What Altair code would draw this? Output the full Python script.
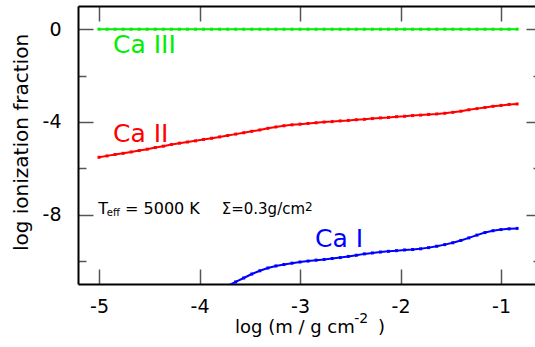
import altair as alt
import pandas as pd

# ---------------- data ----------------
log_m = [-5.00, -4.92, -4.84, -4.76, -4.68, -4.60, -4.52, -4.44, -4.36, -4.28,
         -4.20, -4.12, -4.04, -3.96, -3.88, -3.80, -3.72, -3.64, -3.56, -3.48,
         -3.40, -3.32, -3.24, -3.16, -3.08, -3.00, -2.92, -2.84, -2.76, -2.68,
         -2.60, -2.52, -2.44, -2.36, -2.28, -2.20, -2.12, -2.04, -1.96, -1.88,
         -1.80, -1.72, -1.64, -1.56, -1.48, -1.40, -1.32, -1.24, -1.16, -1.08,
         -1.00, -0.92, -0.84]

ca3 = [0.0, 0.0, 0.0, 0.0, 0.0, 0.0, 0.0, 0.0, 0.0, 0.0,
       0.0, 0.0, 0.0, 0.0, 0.0, 0.0, 0.0, 0.0, 0.0, 0.0,
       0.0, 0.0, 0.0, 0.0, 0.0, 0.0, 0.0, 0.0, 0.0, 0.0,
       0.0, 0.0, 0.0, 0.0, 0.0, 0.0, 0.0, 0.0, 0.0, 0.0,
       0.0, 0.0, 0.0, 0.0, 0.0, 0.0, 0.0, 0.0, 0.0, 0.0,
       0.0, 0.0, 0.0]

ca2 = [-5.53, -5.47, -5.41, -5.36, -5.30, -5.24, -5.18, -5.11, -5.05, -4.98,
       -4.92, -4.87, -4.82, -4.76, -4.71, -4.65, -4.59, -4.53, -4.47, -4.41,
       -4.35, -4.28, -4.22, -4.17, -4.13, -4.10, -4.07, -4.04, -4.01, -3.99,
       -3.96, -3.94, -3.91, -3.89, -3.86, -3.83, -3.81, -3.78, -3.76, -3.73,
       -3.71, -3.68, -3.66, -3.63, -3.59, -3.54, -3.48, -3.43, -3.38, -3.33,
       -3.29, -3.25, -3.23]

ca1_x = [-3.72, -3.64, -3.56, -3.48, -3.40, -3.32, -3.24, -3.16, -3.08, -3.00,
         -2.92, -2.84, -2.76, -2.68, -2.60, -2.52, -2.44, -2.36, -2.28, -2.20,
         -2.12, -2.04, -1.96, -1.88, -1.80, -1.72, -1.64, -1.56, -1.48, -1.40,
         -1.32, -1.24, -1.16, -1.08, -1.00, -0.92, -0.84]
ca1 = [-11.08, -10.91, -10.74, -10.57, -10.43, -10.31, -10.22, -10.16, -10.10, -10.05,
       -10.01, -9.97, -9.94, -9.90, -9.86, -9.81, -9.76, -9.70, -9.66, -9.62,
       -9.59, -9.56, -9.53, -9.51, -9.48, -9.43, -9.37, -9.30, -9.22, -9.12,
       -9.01, -8.89, -8.78, -8.70, -8.65, -8.62, -8.60]

series_names = ["Ca I", "Ca II", "Ca III"]
series_colors = ["#0000ff", "#ff0000", "#00ee00"]

x_ticks = [-5, -4, -3, -2, -1]
y_major = [-8, -4, 0]
y_minor = [-10, -6, -2]

label_text = ["Ca III", "Ca II", "Ca I"]
label_x = [-4.861, -4.861, -2.851]
label_y = [-1.028, -4.870, -9.401]

note_main = ["T", "= 5000 K"]
note_main_x = [-5.007, -4.741]
note_main_y = [-7.977, -7.977]
note_sub = "eff"
note_sub_x, note_sub_y = -4.923, -8.07
note_sigma = "Σ=0.3g/cm"
note_sigma_x, note_sigma_y = -3.779, -7.977
note_sup = "2"
note_sup_x, note_sup_y = -2.950, -7.848

xtitle_main = ["log (m / g cm", ")"]
xtitle_main_x = [-3.647, -2.224]
xtitle_main_y = [-13.126, -13.126]
xtitle_sup = "-2"
xtitle_sup_x, xtitle_sup_y = -2.460, -12.694
ytitle = "log ionization fraction"
ytitle_x, ytitle_y = -5.771, -4.891

# ---------------- tables ----------------
rows = []
for xv, yv in zip(log_m, ca3):
    rows.append({"x": xv, "y": yv, "s": "Ca III"})
for xv, yv in zip(log_m, ca2):
    rows.append({"x": xv, "y": yv, "s": "Ca II"})
for xv, yv in zip(ca1_x, ca1):
    rows.append({"x": xv, "y": yv, "s": "Ca I"})
df = pd.DataFrame(rows)

lab_df = pd.DataFrame({"t": label_text, "x": label_x, "y": label_y, "s": ["Ca III", "Ca II", "Ca I"]})
note_df = pd.DataFrame({"t": note_main, "x": note_main_x, "y": note_main_y})
sub_df = pd.DataFrame({"t": [note_sub], "x": [note_sub_x], "y": [note_sub_y]})
sig_df = pd.DataFrame({"t": [note_sigma], "x": [note_sigma_x], "y": [note_sigma_y]})
sup_df = pd.DataFrame({"t": [note_sup], "x": [note_sup_x], "y": [note_sup_y]})
xt_df = pd.DataFrame({"t": xtitle_main, "x": xtitle_main_x, "y": xtitle_main_y})
xts_df = pd.DataFrame({"t": [xtitle_sup], "x": [xtitle_sup_x], "y": [xtitle_sup_y]})
yt_df = pd.DataFrame({"t": [ytitle], "x": [ytitle_x], "y": [ytitle_y]})

FONT = "DejaVu Sans"
xs = alt.Scale(domain=[-5.209, -0.662], nice=False, zero=False)
ys = alt.Scale(domain=[-11, 1], nice=False, zero=False)
cs = alt.Scale(domain=series_names, range=series_colors)
TICK = "#555555"

def X(axis):
    return alt.X("x:Q", scale=xs, axis=axis)

def Y(axis):
    return alt.Y("y:Q", scale=ys, axis=axis)

ax_x_bottom = alt.Axis(orient="bottom", values=x_ticks, offset=-15, tickSize=15, domain=False,
                       labels=True, title=None, labelFont=FONT, labelFontSize=19, labelPadding=13,
                       labelColor="black", tickColor=TICK, tickWidth=1.5, grid=False,
                       labelExpr="datum.value + ''")
ax_x_top = alt.Axis(orient="top", values=x_ticks, offset=-15, tickSize=15, domain=False,
                    labels=False, title=None, tickColor=TICK, tickWidth=1.5, grid=False)
ax_x_bdom = alt.Axis(orient="bottom", ticks=False, labels=False, domain=True, domainColor="black",
                     domainWidth=2, title=None, grid=False)
ax_x_tdom = alt.Axis(orient="top", ticks=False, labels=False, domain=True, domainColor="black",
                     domainWidth=2, title=None, grid=False)

ax_y_left = alt.Axis(orient="left", values=y_major, offset=-15, tickSize=15, domain=False,
                     labels=True, title=None, labelFont=FONT, labelFontSize=19, labelPadding=17,
                     labelColor="black", tickColor=TICK, tickWidth=1.5, grid=False,
                     labelExpr="datum.value + ''")
ax_y_lminor = alt.Axis(orient="left", values=y_minor, offset=-8, tickSize=8, domain=False,
                       labels=False, title=None, tickColor=TICK, tickWidth=1.5, grid=False)
ax_y_right = alt.Axis(orient="right", values=y_major, offset=-9, tickSize=9, domain=False,
                      labels=False, title=None, tickColor=TICK, tickWidth=1.5, grid=False)
ax_y_rminor = alt.Axis(orient="right", values=y_minor, offset=-2, tickSize=2, domain=False,
                       labels=False, title=None, tickColor=TICK, tickWidth=1.5, grid=False)
ax_y_ldom = alt.Axis(orient="left", ticks=False, labels=False, domain=True, domainColor="black",
                     domainWidth=2, title=None, grid=False)

base = alt.Chart(df)

lines = base.mark_line(strokeWidth=2, clip=True).encode(
    x=X(ax_x_bottom), y=Y(ax_y_left),
    color=alt.Color("s:N", scale=cs, legend=None), detail="s:N")
pts = base.mark_point(shape="square", filled=True, size=9, opacity=1, clip=True).encode(
    x=X(ax_x_top), y=Y(ax_y_lminor),
    color=alt.Color("s:N", scale=cs, legend=None))
inv1 = base.mark_point(opacity=0).encode(x=X(ax_x_bdom), y=Y(ax_y_right))
inv2 = base.mark_point(opacity=0).encode(x=X(ax_x_tdom), y=Y(ax_y_rminor))
inv3 = base.mark_point(opacity=0).encode(x=X(None), y=Y(ax_y_ldom))

labels = alt.Chart(lab_df).mark_text(font=FONT, fontSize=25, align="left", baseline="alphabetic").encode(
    x=X(None), y=Y(None), text="t:N", color=alt.Color("s:N", scale=cs, legend=None))
notes = alt.Chart(note_df).mark_text(font=FONT, fontSize=16, align="left", baseline="alphabetic",
                                     color="black").encode(x=X(None), y=Y(None), text="t:N")
subs = alt.Chart(sub_df).mark_text(font=FONT, fontSize=10, align="left", baseline="alphabetic",
                                   color="black").encode(x=X(None), y=Y(None), text="t:N")
sigs = alt.Chart(sig_df).mark_text(font=FONT, fontSize=15, align="left", baseline="alphabetic",
                                   color="black").encode(x=X(None), y=Y(None), text="t:N")
sups = alt.Chart(sup_df).mark_text(font=FONT, fontSize=12, align="left", baseline="alphabetic",
                                   color="black").encode(x=X(None), y=Y(None), text="t:N")
xt = alt.Chart(xt_df).mark_text(font=FONT, fontSize=18, align="left", baseline="alphabetic",
                                color="black").encode(x=X(None), y=Y(None), text="t:N")
xts = alt.Chart(xts_df).mark_text(font=FONT, fontSize=14, align="left", baseline="alphabetic",
                                  color="black").encode(x=X(None), y=Y(None), text="t:N")
yt = alt.Chart(yt_df).mark_text(font=FONT, fontSize=20, align="center", baseline="middle",
                                angle=270, color="black").encode(x=X(None), y=Y(None), text="t:N")

chart = alt.layer(lines, pts, inv1, inv2, inv3, labels, notes, subs, sigs, sups, xt, xts, yt).resolve_axis(
    x="independent", y="independent"
).properties(
    width=457, height=278,
    autosize=alt.AutoSizeParams(type="none"),
    padding={"left": 78, "top": 6, "right": 0, "bottom": 63},
    background="white",
).configure_view(stroke=None).configure_axis(grid=False)

chart.save("out.html", embed_options={"renderer": "svg", "actions": False})
